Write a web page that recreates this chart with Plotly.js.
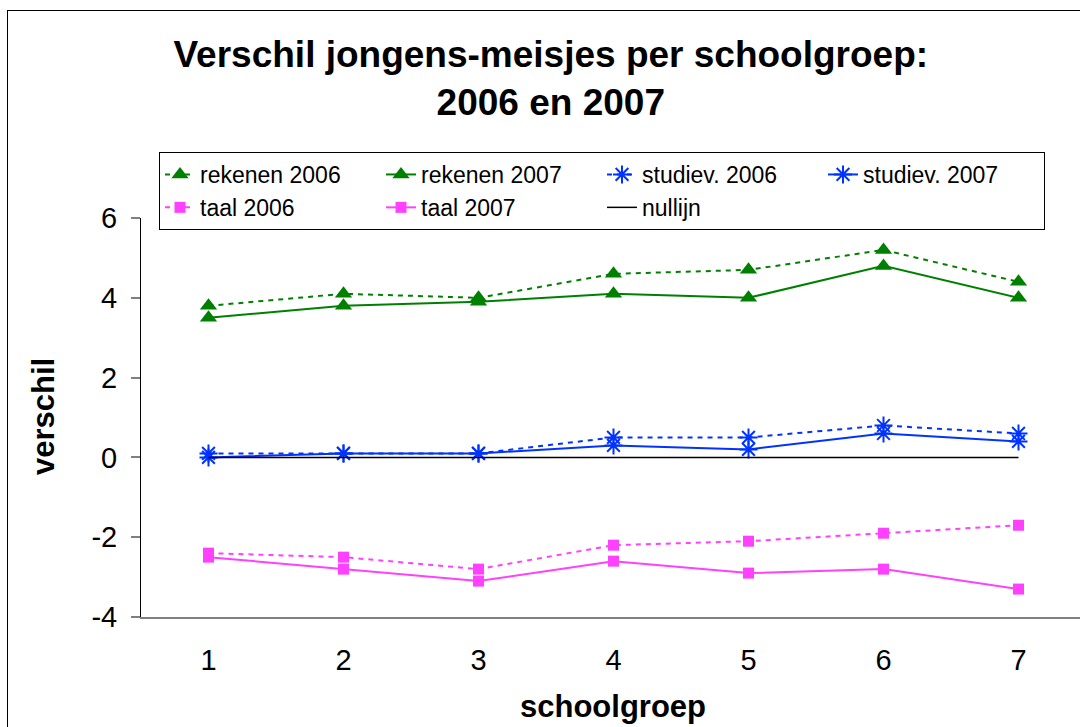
<!DOCTYPE html>
<html>
<head>
<meta charset="utf-8">
<script src="https://cdn.plot.ly/plotly-3.0.1.min.js"></script>
<style>
  html, body { margin: 0; padding: 0; background: #fff; }
  #wrap { position: relative; width: 1080px; height: 727px; overflow: hidden; }
  #chart { width: 1080px; height: 727px; }
  #frame { position: absolute; left: 7px; top: 10px; width: 1200px; height: 900px;
           border: 1px solid #000; pointer-events: none; box-sizing: border-box; }
</style>
</head>
<body>
<div id="wrap">
  <div id="chart"></div>
  <div id="frame"></div>
</div>
<script>
// ---- data ----
const groups = [1, 2, 3, 4, 5, 6, 7];
const rekenen2006 = [3.8, 4.1, 4.0, 4.6, 4.7, 5.2, 4.4];
const rekenen2007 = [3.5, 3.8, 3.9, 4.1, 4.0, 4.8, 4.0];
const studiev2006 = [0.1, 0.1, 0.1, 0.5, 0.5, 0.8, 0.6];
const studiev2007 = [0.0, 0.1, 0.1, 0.3, 0.2, 0.6, 0.4];
const taal2006 = [-2.4, -2.5, -2.8, -2.2, -2.1, -1.9, -1.7];
const taal2007 = [-2.5, -2.8, -3.1, -2.6, -2.9, -2.8, -3.3];
const nullijn = [0, 0, 0, 0, 0, 0, 0];
const yTickVals = [-4, -2, 0, 2, 4, 6];
const yTickText = ['-4', '-2', '0', '2', '4', '6'];
const xTickVals = [1, 2, 3, 4, 5, 6, 7];
const xTickText = ['1', '2', '3', '4', '5', '6', '7'];

const GREEN = '#008000', BLUE = '#0033ff', MAGENTA = '#ff40ff';
const DOTTED = '5px,5px';

function tr(name, y, color, dash, marker) {
  return {
    x: groups, y: y, name: name, type: 'scatter', mode: 'lines+markers',
    line: { color: color, width: 2, dash: dash },
    marker: Object.assign({ color: color }, marker)
  };
}
const triM = { symbol: 'triangle-up', size: 15 };
const sqM = { symbol: 'square', size: 11 };
const astM = { symbol: 'asterisk-open', size: 15, line: { color: BLUE, width: 2 } };

const traces = [
  tr('rekenen 2006', rekenen2006, GREEN, DOTTED, triM),
  tr('rekenen 2007', rekenen2007, GREEN, 'solid', triM),
  tr('studiev. 2006', studiev2006, BLUE, DOTTED, astM),
  tr('studiev. 2007', studiev2007, BLUE, 'solid', astM),
  tr('taal 2006', taal2006, MAGENTA, DOTTED, sqM),
  tr('taal 2007', taal2007, MAGENTA, 'solid', sqM),
  { x: groups, y: nullijn, name: 'nullijn', type: 'scatter', mode: 'lines',
    line: { color: '#000000', width: 1.5 } }
];

const FONT = 'Liberation Sans, Arial, sans-serif';

const layout = {
  width: 1080, height: 727,
  margin: { l: 141, r: 0, t: 218, b: 110, pad: 0 },
  paper_bgcolor: '#ffffff', plot_bgcolor: '#ffffff',
  font: { family: FONT, color: '#000000', size: 23 },
  showlegend: true,
  title: {
    text: '<b>Verschil jongens-meisjes per schoolgroep:<br>2006 en 2007</b>',
    font: { family: FONT, size: 37, color: '#000' },
    xref: 'container', x: 0.51, xanchor: 'center',
    yref: 'container', y: 1 - 67 / 727, yanchor: 'middle'
  },
  xaxis: {
    range: [0.5, 0.5 + 939 / 135],
    tickvals: xTickVals, ticktext: xTickText,
    ticks: '', ticklabelstandoff: 16,
    tickfont: { family: FONT, size: 29, color: '#000' },
    showgrid: false, zeroline: false,
    showline: true, linecolor: '#808080', linewidth: 2,
    fixedrange: true
  },
  yaxis: {
    range: [-4, 6],
    tickvals: yTickVals, ticktext: yTickText,
    ticks: 'outside', ticklen: 9, tickwidth: 2, tickcolor: '#808080',
    ticklabelstandoff: 8,
    tickfont: { family: FONT, size: 29, color: '#000' },
    showgrid: false, zeroline: false,
    showline: true, linecolor: '#000000', linewidth: 1,
    fixedrange: true
  },
  legend: {
    orientation: 'h',
    x: (159 - 141) / 939, xanchor: 'left',
    y: (617 - 152) / 399, yanchor: 'top',
    bgcolor: '#ffffff', bordercolor: '#000000', borderwidth: 1,
    font: { family: FONT, size: 23, color: '#000' },
    entrywidth: 176, entrywidthmode: 'pixels',
    traceorder: 'normal'
  },
  annotations: [
    { text: '<b>schoolgroep</b>', xref: 'paper', yref: 'paper',
      x: (613 - 141) / 939, y: (617 - 706) / 399, xanchor: 'center', yanchor: 'middle',
      showarrow: false, font: { family: FONT, size: 31, color: '#000' } },
    { text: '<b>verschil</b>', xref: 'paper', yref: 'paper', textangle: -90,
      x: (43 - 141) / 939, y: (617 - 417) / 399, xanchor: 'center', yanchor: 'middle',
      showarrow: false, font: { family: FONT, size: 31, color: '#000' } }
  ]
};

Plotly.newPlot('chart', traces, layout, { displayModeBar: false, staticPlot: true });
</script>
</body>
</html>
